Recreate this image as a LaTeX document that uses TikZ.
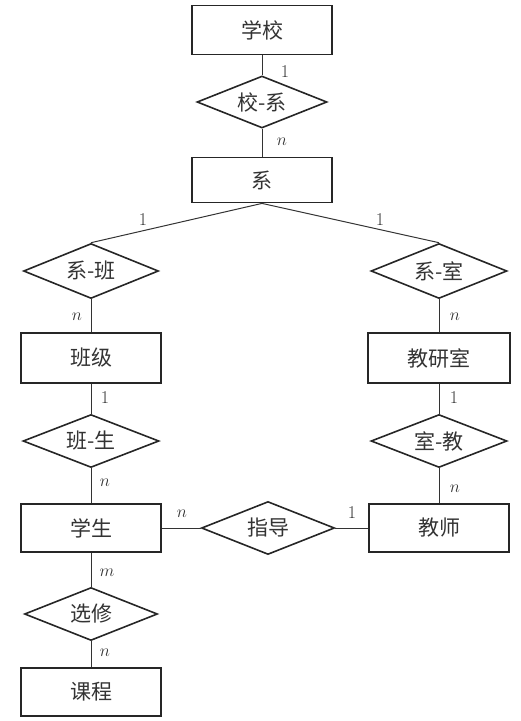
\documentclass[tikz,border=0pt]{standalone}
\usepackage{fontspec}
\newfontfamily\cjk{Noto Sans CJK SC}
\usetikzlibrary{shapes.geometric}
\begin{document}
\begin{tikzpicture}[x=1pt,y=-1pt,
  ent/.style={draw=black!85,line width=1.8pt,minimum width=140pt,minimum height=48pt,inner sep=0pt,
    font=\cjk\fontsize{21pt}{24pt}\selectfont,text=black!80},
  rel/.style={draw=black!85,line width=1.6pt,shape=diamond,shape aspect=2.5,inner sep=0pt,
    minimum width=134pt,minimum height=53pt,font=\cjk\fontsize{21pt}{24pt}\selectfont,text=black!80},
  card/.style={inner sep=0pt,font=\fontsize{18pt}{20pt}\selectfont,text=black!80},
  conn/.style={draw=black!80,line width=1pt}]
\useasboundingbox (0,0) rectangle (521,721);
% entities
\node[ent,minimum height=49pt] (school) at (262,30) {学校};
\node[ent,minimum height=45pt] (dept) at (262,180) {系};
\node[ent,minimum height=50pt] (cls) at (91,358) {班级};
\node[ent,minimum height=50pt,minimum width=142pt] (office) at (439,358) {教研室};
\node[ent] (stu) at (91,528) {学生};
\node[ent] (tea) at (439,528) {教师};
\node[ent] (course) at (91,692) {课程};
% relationships
\node[rel,minimum width=130pt,minimum height=52pt] (sd) at (262,102) {校-系};
\node[rel,minimum width=135pt,minimum height=55pt] (dc) at (91,271) {系-班};
\node[rel,minimum width=136pt,minimum height=55pt] (do) at (439,271) {系-室};
\node[rel,minimum width=136pt] (cs) at (91,441) {班-生};
\node[rel,minimum width=136pt] (ot) at (439,441) {室-教};
\node[rel,minimum width=133pt] (guide) at (268,528) {指导};
\node[rel,minimum width=133pt] (elect) at (91,614) {选修};
% connectors
\draw[conn] (school.south) -- (sd.north);
\draw[conn] (sd.south) -- (dept.north);
\draw[conn] (dept.south) -- (dc.north);
\draw[conn] (dept.south) -- (do.north);
\draw[conn] (dc.south) -- (cls.north);
\draw[conn] (cls.south) -- (cs.north);
\draw[conn] (cs.south) -- (stu.north);
\draw[conn] (stu.south) -- (elect.north);
\draw[conn] (elect.south) -- (course.north);
\draw[conn] (do.south) -- (office.north);
\draw[conn] (office.south) -- (ot.north);
\draw[conn] (ot.south) -- (tea.north);
\draw[conn] (stu.east) -- (guide.west);
\draw[conn] (guide.east) -- (tea.west);
% cardinalities
\node[card] (c1) at (285,72) {1};
\node[card] (c2) at (282,142) {$n$};
\node[card] (c3) at (143,220) {1};
\node[card] (c4) at (380,220) {1};
\node[card] (c5) at (77,317) {$n$};
\node[card] (c6) at (455,317) {$n$};
\node[card] (c7) at (105,398) {1};
\node[card] (c8) at (454,398) {1};
\node[card] (c9) at (105,483) {$n$};
\node[card] (c10) at (455,489) {$n$};
\node[card] (c11) at (182,514) {$n$};
\node[card] (c12) at (352,513) {1};
\node[card] (c13) at (107,573) {$m$};
\node[card] (c14) at (105,653) {$n$};
\end{tikzpicture}
\end{document}
